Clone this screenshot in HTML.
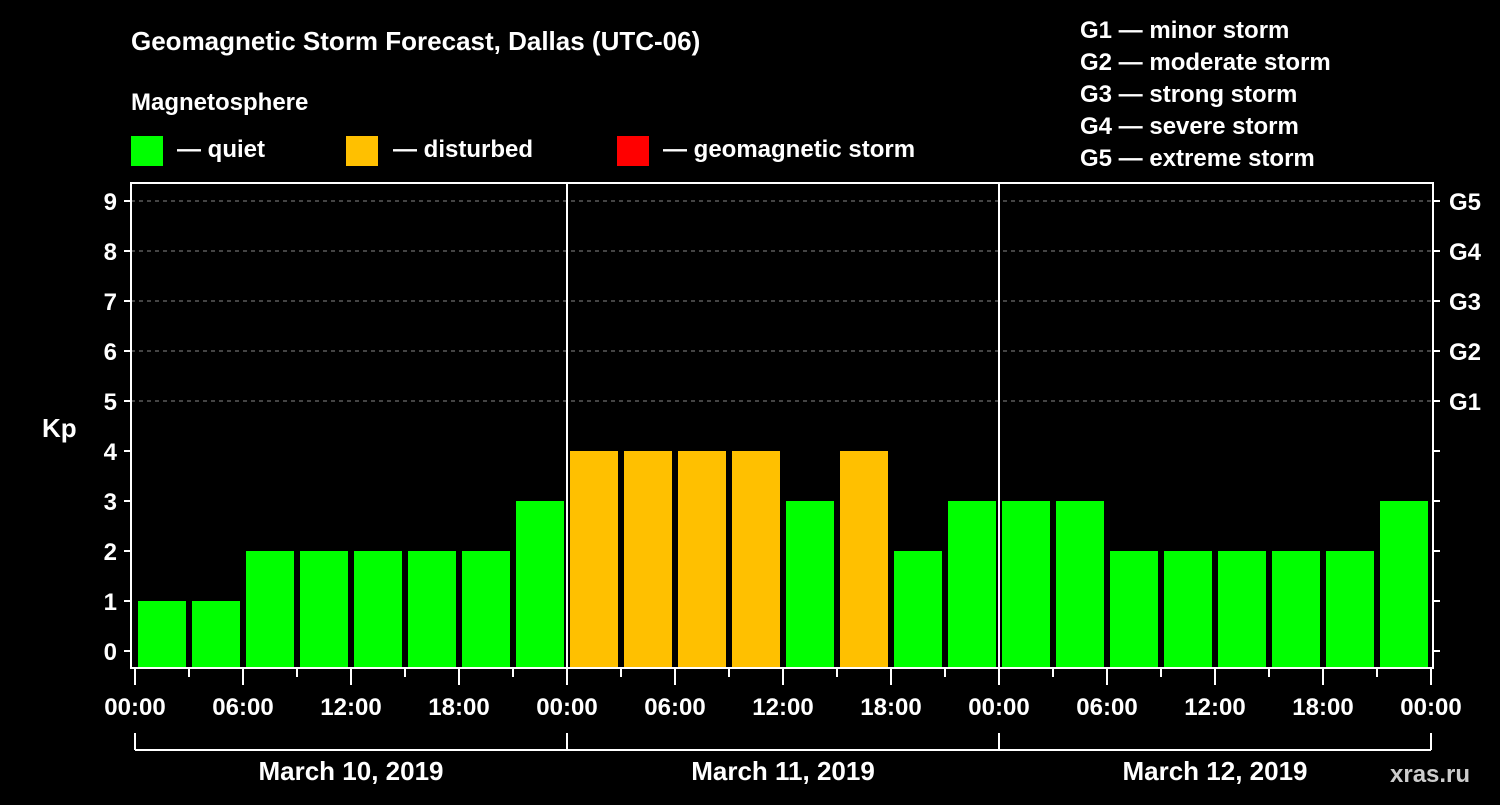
<!DOCTYPE html>
<html><head><meta charset="utf-8"><style>
body{margin:0;background:#000;width:1500px;height:800px;overflow:hidden}
svg text{font-family:"Liberation Sans",Arial,sans-serif;font-weight:bold;fill:#fff}
</style></head><body>
<svg id="c" width="1500" height="800" xmlns="http://www.w3.org/2000/svg">
<rect width="1500" height="800" fill="#000"/>
<text x="131" y="50" font-size="26">Geomagnetic Storm Forecast, Dallas (UTC-06)</text>
<text x="131" y="110" font-size="24">Magnetosphere</text>
<g><rect x="131" y="136" width="32" height="30" fill="#00ff00"/><text x="177" y="157" font-size="24">— quiet</text></g>
<g><rect x="346" y="136" width="32" height="30" fill="#ffc000"/><text x="393" y="157" font-size="24">— disturbed</text></g>
<g><rect x="617" y="136" width="32" height="30" fill="#ff0000"/><text x="663" y="157" font-size="24">— geomagnetic storm</text></g>
<g font-size="24">
<text x="1080" y="38">G1 — minor storm</text>
<text x="1080" y="70">G2 — moderate storm</text>
<text x="1080" y="102">G3 — strong storm</text>
<text x="1080" y="134">G4 — severe storm</text>
<text x="1080" y="166">G5 — extreme storm</text>
</g>
<text x="42" y="437" font-size="26">Kp</text>
<text x="1390" y="782" font-size="24" fill="#ccc" style="fill:#ccc">xras.ru</text>
<g id="plot"></g>
</svg>
<script>
const kpValues=[1,1,2,2,2,2,2,3, 4,4,4,4,3,4,2,3, 3,3,2,2,2,2,2,3];
const dayLabels=["March 10, 2019","March 11, 2019","March 12, 2019"];
const hourLabels=["00:00","06:00","12:00","18:00"];
const gLabels=["G1","G2","G3","G4","G5"];
const yTicks=[0,1,2,3,4,5,6,7,8,9];
const X0=135,DAY=432,L=131,R=1433,T=183,B=668;
const xs=h=>X0+h*DAY/24;
const ys=v=>651-v*50;
const ns="http://www.w3.org/2000/svg";
const g=document.getElementById('plot');
function mk(t,a,p){const e=document.createElementNS(ns,t);for(const k in a)e.setAttribute(k,a[k]);(p||g).appendChild(e);return e;}
// grid
for(let v=5;v<=9;v++){const l=mk('line',{x1:L,x2:R,y1:ys(v),y2:ys(v),stroke:'#888','stroke-dasharray':'4,4','stroke-width':1});

}
// bars
kpValues.forEach((v,i)=>{const x=xs(i*3)+3,w=xs(i*3+3)-xs(i*3)-6;
const r=mk('rect',{x:x,y:ys(v),width:w,height:B-ys(v),fill:v>=5?'#ff0000':(v>=4?'#ffc000':'#00ff00')});

});
// frame
const f=mk('rect',{x:L,y:T,width:R-L,height:B-T,fill:'none',stroke:'#fff','stroke-width':2});


for(let d=1;d<dayLabels.length;d++){const l=mk('line',{x1:xs(d*24),x2:xs(d*24),y1:T,y2:B,stroke:'#fff','stroke-width':2});

}
// y ticks
yTicks.forEach(v=>{const y=ys(v);
mk('line',{x1:L-7,x2:L,y1:y,y2:y,stroke:'#fff','stroke-width':2});
mk('line',{x1:R,x2:R+7,y1:y,y2:y,stroke:'#fff','stroke-width':2});
const t=mk('text',{x:L-14,y:y+9,'font-size':24,'text-anchor':'end'});t.textContent=v;

});
gLabels.forEach((s,i)=>{const t=mk('text',{x:1449,y:ys(5+i)+9,'font-size':24});t.textContent=s;

});
// x ticks
for(let h=0;h<=72;h+=3){const x=xs(h);const maj=h%6==0;
mk('line',{x1:x,x2:x,y1:B,y2:B+(maj?17:9),stroke:'#fff','stroke-width':2});
if(maj&&(h%24==0||(h%24)%6==0)){const lab=hourLabels[(h%24)/6];
const t=mk('text',{x:x,y:715,'font-size':24,'text-anchor':'middle'});t.textContent=lab;

}}
// day brackets
dayLabels.forEach((s,d)=>{const x1=xs(d*24),x2=xs(d*24+24);
mk('line',{x1:x1,x2:x2,y1:750,y2:750,stroke:'#fff','stroke-width':2});
mk('line',{x1:x1,x2:x1,y1:733,y2:750,stroke:'#fff','stroke-width':2});
mk('line',{x1:x2,x2:x2,y1:733,y2:750,stroke:'#fff','stroke-width':2});
const t=mk('text',{x:(x1+x2)/2,y:780,'font-size':26,'text-anchor':'middle'});t.textContent=s;

});
</script>
</body></html>
